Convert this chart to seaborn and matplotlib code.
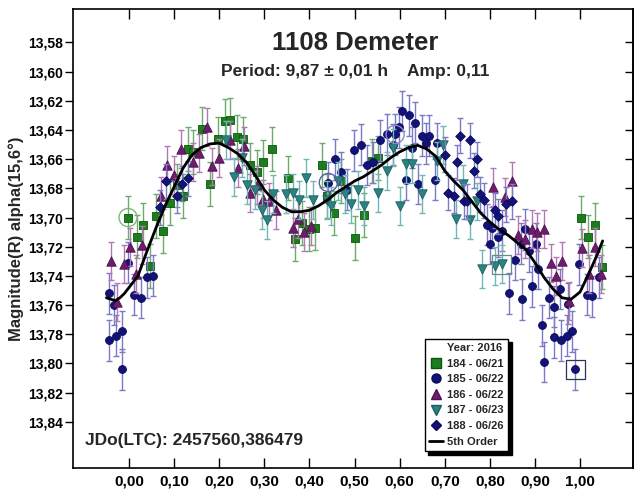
import matplotlib
matplotlib.use("Agg")
import matplotlib.pyplot as plt
import seaborn as sns
import pandas as pd
from matplotlib.lines import Line2D

# ---------------- data (phase, magnitude) ----------------
s184_phase = [-0.002, 0.017, 0.032, 0.047, 0.061, 0.075, 0.090, 0.106, 0.120, 0.131, 0.143, 0.161,
              0.179, 0.197, 0.213, 0.224, 0.239, 0.253, 0.268, 0.283, 0.298, 0.318, 0.353, 0.368,
              0.383, 0.398, 0.412, 0.427, 0.438, 0.455, 0.470, 0.501, 0.520, 0.538, 0.553,
              1.002, 1.018, 1.033, 1.048]
s184_mag = [13.700, 13.713, 13.705, 13.733, 13.699, 13.709, 13.690, 13.678, 13.685, 13.653, 13.655, 13.639,
            13.677, 13.646, 13.634, 13.633, 13.645, 13.646, 13.664, 13.669, 13.662, 13.653, 13.673, 13.715,
            13.704, 13.708, 13.707, 13.664, 13.685, 13.697, 13.675, 13.714, 13.698, 13.661, 13.659,
            13.700, 13.713, 13.705, 13.734]

s185_phase = [-0.044, -0.044, -0.029, -0.016, -0.016, -0.033, -0.002, 0.012, 0.027, 0.039, 0.054,
              0.442, 0.457, 0.470, 0.483, 0.499, 0.514, 0.528, 0.542, 0.557, 0.571, 0.586, 0.590,
              0.599, 0.606, 0.621, 0.634, 0.628, 0.614, 0.641, 0.649, 0.664, 0.658, 0.682, 0.678,
              0.793, 0.804, 0.826, 0.800, 0.819, 0.869, 0.878, 0.887, 0.902, 0.856, 0.906, 0.843,
              0.872, 0.893, 0.915, 0.921, 0.930, 0.943, 0.943, 0.958, 0.956, 0.972, 0.974, 0.983,
              0.989, 0.998, 1.015, 1.027, 1.041]
s185_mag = [13.752, 13.784, 13.781, 13.778, 13.804, 13.760, 13.731, 13.753, 13.755, 13.741, 13.740,
            13.676, 13.660, 13.669, 13.681, 13.654, 13.650, 13.664, 13.662, 13.647, 13.643, 13.650, 13.643,
            13.638, 13.627, 13.630, 13.635, 13.652, 13.674, 13.677, 13.644, 13.644, 13.649, 13.649, 13.674,
            13.705, 13.707, 13.709, 13.718, 13.713, 13.718, 13.708, 13.723, 13.718, 13.729, 13.735, 13.752,
            13.756, 13.747, 13.774, 13.799, 13.755, 13.761, 13.782, 13.784, 13.749, 13.781, 13.759, 13.778,
            13.804, 13.732, 13.753, 13.754, 13.741]

s186_phase = [-0.040, -0.012, 0.002, 0.030, 0.016, -0.027, 0.070, 0.085, 0.099, 0.115, 0.143, 0.156,
              0.172, 0.184, 0.199, 0.225, 0.241, 0.255, 0.268, 0.283, 0.298, 0.310, 0.327, 0.363,
              0.375, 0.388, 0.403, 0.808, 0.834, 0.850, 0.863, 0.877, 0.893, 0.904, 0.919, 0.935,
              0.961, 0.947, 0.976, 1.004, 1.032, 1.020, 1.047]
s186_mag = [13.730, 13.732, 13.720, 13.719, 13.739, 13.758, 13.685, 13.664, 13.671, 13.653, 13.662, 13.656,
            13.638, 13.665, 13.659, 13.647, 13.666, 13.651, 13.683, 13.678, 13.687, 13.689, 13.695, 13.707,
            13.701, 13.710, 13.706, 13.679, 13.686, 13.675, 13.712, 13.715, 13.708, 13.710, 13.708, 13.731,
            13.730, 13.740, 13.757, 13.721, 13.720, 13.739, 13.739]

s187_phase = [0.216, 0.233, 0.250, 0.261, 0.279, 0.294, 0.307, 0.320, 0.348, 0.364, 0.377, 0.392,
              0.409, 0.440, 0.448, 0.464, 0.478, 0.492, 0.508, 0.521, 0.553, 0.572, 0.586, 0.601,
              0.614, 0.627, 0.649, 0.682, 0.697, 0.726, 0.741, 0.756, 0.771, 0.782, 0.812, 0.826]
s187_mag = [13.647, 13.672, 13.659, 13.678, 13.681, 13.695, 13.702, 13.684, 13.684, 13.683, 13.688, 13.673,
            13.688, 13.688, 13.692, 13.675, 13.684, 13.691, 13.681, 13.692, 13.683, 13.668, 13.652, 13.692,
            13.663, 13.663, 13.684, 13.661, 13.650, 13.701, 13.677, 13.702, 13.689, 13.735, 13.733, 13.732]

s188_phase = [0.069, 0.081, 0.106, 0.118, 0.130, 0.700, 0.708, 0.721, 0.727, 0.734, 0.742, 0.749,
              0.756, 0.764, 0.771, 0.778, 0.788, 0.812, 0.819, 0.835, 0.850]
s188_mag = [13.693, 13.675, 13.685, 13.677, 13.673, 13.657, 13.683, 13.685, 13.662, 13.644, 13.689, 13.689,
            13.647, 13.668, 13.660, 13.684, 13.688, 13.695, 13.699, 13.691, 13.689]

# typical photometric error per session
session_err = [0.015, 0.014, 0.013, 0.013, 0.012]

session_labels = ["184 - 06/21", "185 - 06/22", "186 - 06/22", "187 - 06/23", "188 - 06/26"]

# highlighted (first) points
ring_phase = [-0.002, 0.442, 0.590]
ring_mag = [13.700, 13.676, 13.643]
box_phase = [0.826, 0.989]
box_mag = [13.732, 13.804]

# 5th order Fourier fit
curve_phase = [-0.05, -0.04, -0.03, -0.02, -0.01, 0.00, 0.02, 0.04, 0.06, 0.08, 0.10, 0.12, 0.14,
               0.16, 0.18, 0.20, 0.22, 0.24, 0.26, 0.28, 0.30, 0.32, 0.34, 0.36, 0.38, 0.40, 0.42,
               0.44, 0.46, 0.48, 0.50, 0.52, 0.54, 0.56, 0.58, 0.60, 0.62, 0.64, 0.66, 0.68, 0.70,
               0.72, 0.74, 0.76, 0.78, 0.80, 0.82, 0.84, 0.86, 0.88, 0.90, 0.92, 0.94, 0.96, 0.98,
               1.00, 1.02, 1.04, 1.05]
curve_mag = [13.755, 13.756, 13.757, 13.755, 13.752, 13.748, 13.740, 13.723, 13.707, 13.692, 13.679,
             13.666, 13.657, 13.652, 13.6495, 13.649, 13.652, 13.656, 13.662, 13.671, 13.681, 13.688,
             13.693, 13.696, 13.696, 13.695, 13.692, 13.688, 13.683, 13.679, 13.675, 13.672, 13.668,
             13.664, 13.659, 13.655, 13.652, 13.6505, 13.653, 13.658, 13.668, 13.675, 13.681, 13.689,
             13.697, 13.703, 13.708, 13.712, 13.717, 13.722, 13.731, 13.741, 13.749, 13.755, 13.756,
             13.751, 13.738, 13.724, 13.716]

xtick_vals = [0.0, 0.1, 0.2, 0.3, 0.4, 0.5, 0.6, 0.7, 0.8, 0.9, 1.0]
xtick_labels = ["0,00", "0,10", "0,20", "0,30", "0,40", "0,50", "0,60", "0,70", "0,80", "0,90", "1,00"]
ytick_vals = [13.58, 13.60, 13.62, 13.64, 13.66, 13.68, 13.70, 13.72, 13.74, 13.76, 13.78, 13.80, 13.82, 13.84]
ytick_labels = ["13,58", "13,60", "13,62", "13,64", "13,66", "13,68", "13,70", "13,72", "13,74",
                "13,76", "13,78", "13,80", "13,82", "13,84"]

# ---------------- styling ----------------
sns.set_theme(style="ticks")
plt.rcParams['font.family'] = ['Liberation Sans', 'DejaVu Sans']
plt.rcParams['font.weight'] = 'bold'
plt.rcParams['axes.edgecolor'] = 'black'
plt.rcParams['xtick.color'] = 'black'
plt.rcParams['ytick.color'] = 'black'

face_colors = ["#1c7d1c", "#12127a", "#6e1c6e", "#2a8282", "#12127a"]
edge_colors = ["#0e560e", "#0a0a55", "#4e0f4e", "#1b5e5e", "#0a0a55"]
bar_colors = ["#6cab6c", "#7a7ac6", "#b27ab2", "#72b6b6", "#7a7ac6"]
markers = ["s", "o", "^", "v", "D"]
msizes = [40, 32, 46, 46, 24]

all_phase = [s184_phase, s185_phase, s186_phase, s187_phase, s188_phase]
all_mag = [s184_mag, s185_mag, s186_mag, s187_mag, s188_mag]

frames = []
for lab, ph, mg in zip(session_labels, all_phase, all_mag):
    frames.append(pd.DataFrame({"phase": ph, "mag": mg, "session": lab}))
df = pd.concat(frames, ignore_index=True)

fig = plt.figure(figsize=(6.35, 4.91), dpi=100)
ax = fig.add_axes([0.115, 0.0468, 0.882, 0.935])

for i, lab in enumerate(session_labels):
    sub = df[df["session"] == lab]
    ax.errorbar(sub["phase"], sub["mag"], yerr=session_err[i], fmt="none",
                ecolor=bar_colors[i], elinewidth=1.0, capsize=2.5, capthick=1.0,
                zorder=2 + i * 0.1)
    sns.scatterplot(data=sub, x="phase", y="mag", marker=markers[i], s=msizes[i],
                    color=face_colors[i], edgecolor=edge_colors[i], linewidth=0.6,
                    ax=ax, zorder=2.05 + i * 0.1, legend=False)

# highlight markers
ax.scatter(ring_phase, ring_mag, s=170, facecolors="none",
           edgecolors=["#7fb87f", "#5c5ca8", "#8a8ac8"], linewidths=1.0, zorder=4)
ax.scatter(box_phase, box_mag, s=190, marker="s", facecolors="none",
           edgecolors=["#6a8a8a", "#333355"], linewidths=0.9, zorder=4)

sns.lineplot(x=curve_phase, y=curve_mag, color="black", linewidth=2.0, ax=ax, zorder=6)

ax.set_xlim(-0.124, 1.1175)
ax.set_ylim(13.8717, 13.557)

ax.set_xticks(xtick_vals)
ax.set_xticklabels(xtick_labels, fontsize=11, fontweight="bold")
ax.set_yticks(ytick_vals)
ax.set_yticklabels(ytick_labels, fontsize=10, fontweight="bold")
ax.tick_params(axis="x", direction="in", length=7, width=1.0, top=True, bottom=True,
               labeltop=False, pad=5)
ax.tick_params(axis="y", direction="out", length=6, width=1.0, left=True, right=False, pad=1.5)

sec = ax.secondary_yaxis("right")
sec.set_yticks(ytick_vals)
sec.set_yticklabels([])
sec.tick_params(direction="in", length=6, width=1.0)
sec.spines["right"].set_linewidth(1.2)

for sp in ax.spines.values():
    sp.set_visible(True)
    sp.set_linewidth(1.2)
    sp.set_color("black")

ax.set_xlabel("")
ax.set_ylabel("Magnitude(R) alpha(15,6°)", fontsize=12, fontweight="bold")
ax.yaxis.set_label_coords(-0.087, 0.5)

ax.text(0.504, 0.926, "1108 Demeter", transform=ax.transAxes, ha="center", va="center",
        fontsize=18.5, fontweight="bold")
ax.text(0.504, 0.864, "Period: 9,87 ± 0,01 h    Amp: 0,11", transform=ax.transAxes,
        ha="center", va="center", fontsize=12.5, fontweight="bold")
ax.text(0.021, 0.061, "JDo(LTC): 2457560,386479", transform=ax.transAxes,
        ha="left", va="center", fontsize=12.5, fontweight="bold")

handles = [Line2D([], [], linestyle="none", marker=None, label="Year: 2016")]
for i, lab in enumerate(session_labels):
    handles.append(Line2D([], [], linestyle="none", marker=markers[i],
                          markersize=6.5 if markers[i] != "D" else 4.8,
                          markerfacecolor=face_colors[i], markeredgecolor=edge_colors[i],
                          label=lab))
handles.append(Line2D([], [], color="black", linewidth=2, label="5th Order"))

leg = ax.legend(handles=handles, loc="lower right", bbox_to_anchor=(0.777, 0.037),
                prop={"size": 8, "weight": "bold"}, frameon=True, fancybox=False,
                edgecolor="black", framealpha=1, handlelength=1.25, handletextpad=0.35,
                borderpad=0.4, labelspacing=0.5, borderaxespad=0,
                shadow={"color": "black", "alpha": 1, "ox": 2.5, "oy": -2.5})
leg.get_frame().set_linewidth(1.0)
leg.set_zorder(10)

fig.savefig("out.png", dpi=100)
